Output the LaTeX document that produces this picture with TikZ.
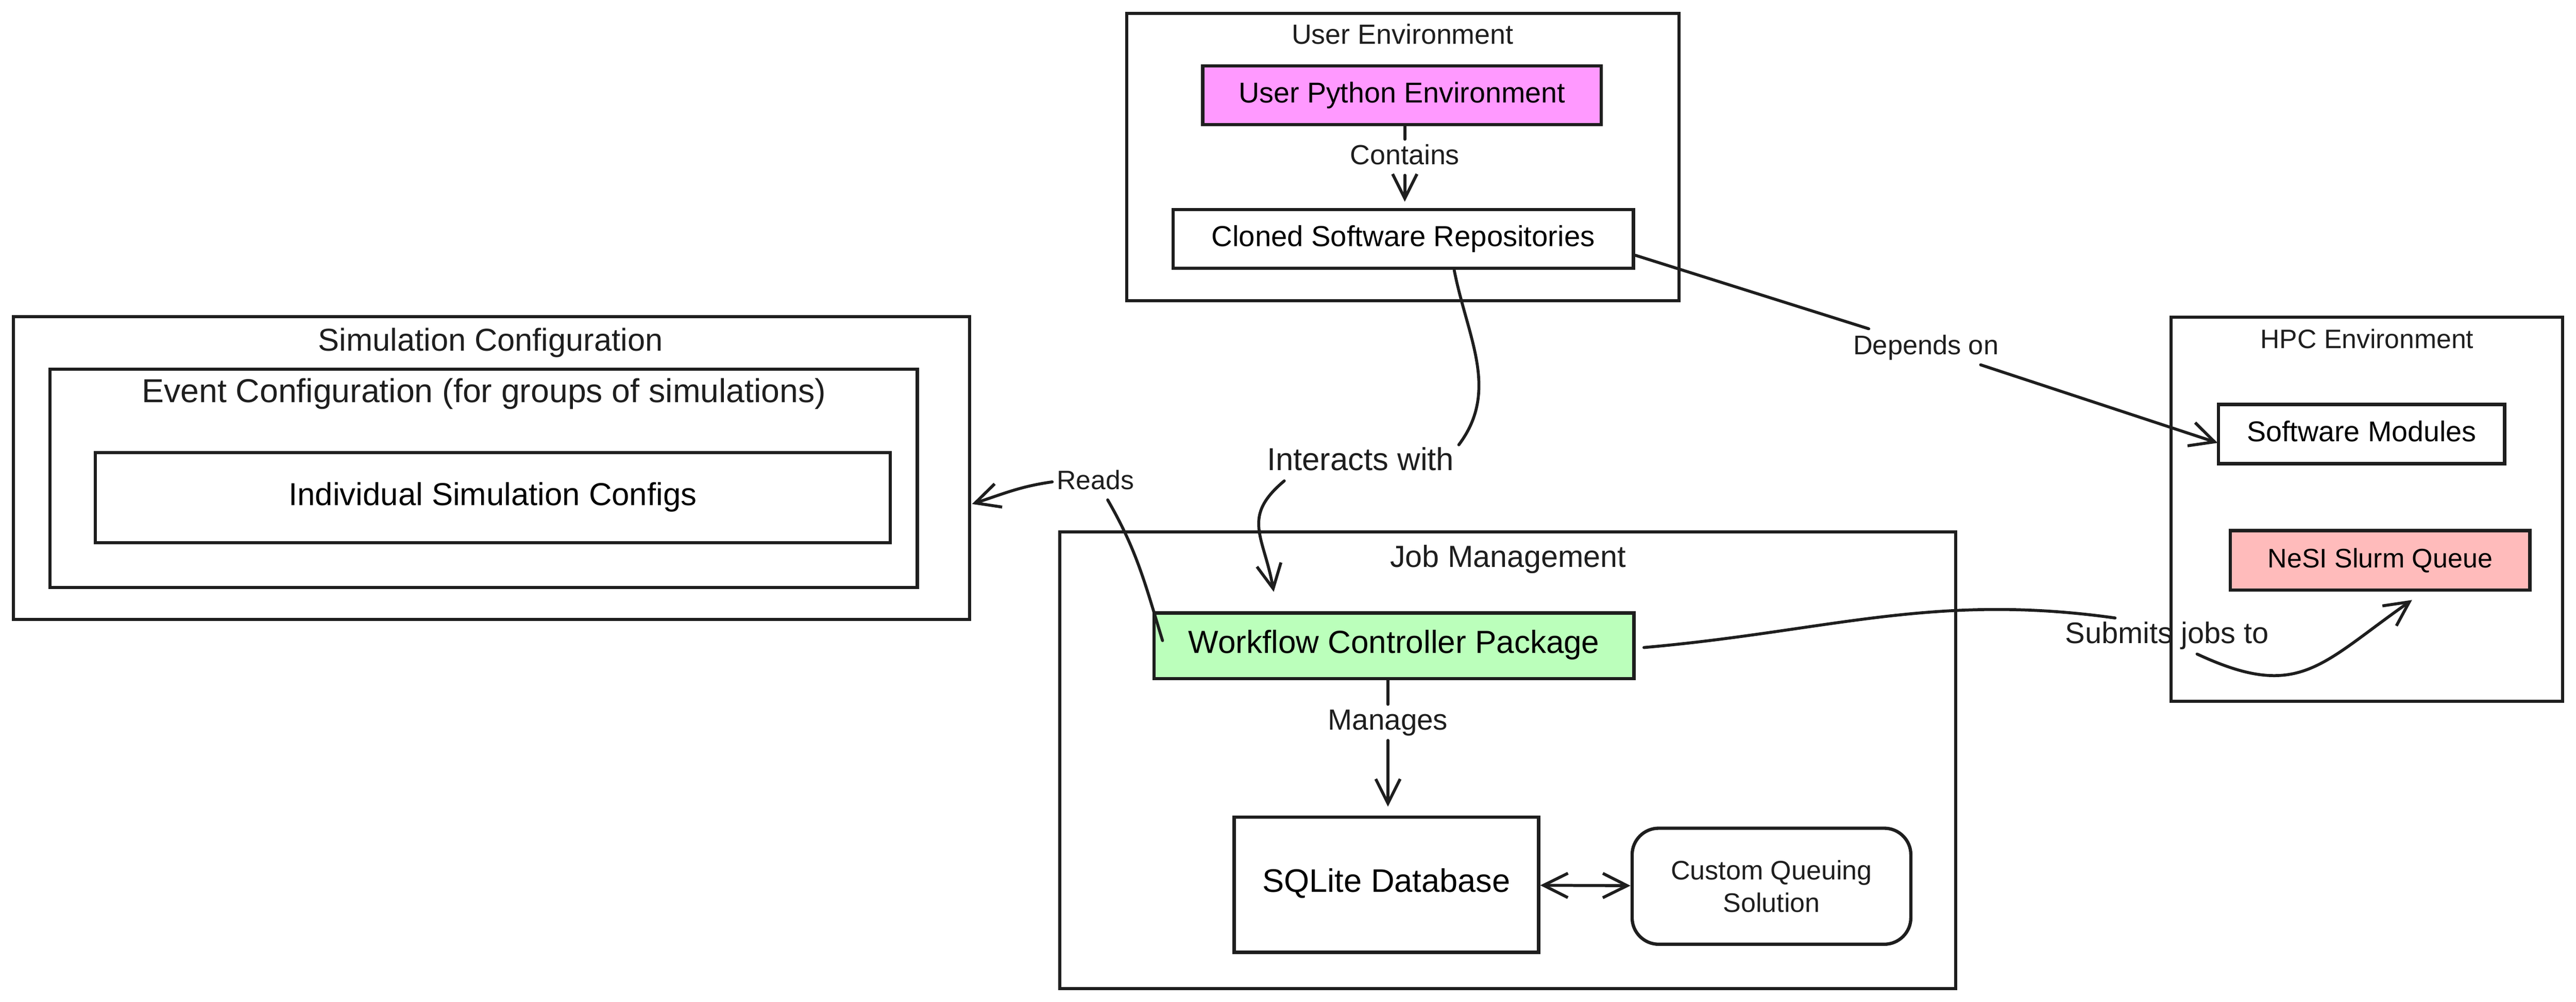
\documentclass[tikz,border=0pt]{standalone}
\usepackage{fontspec}
\setmainfont{Liberation Sans}
\usetikzlibrary{arrows.meta,calc}
\definecolor{ink}{HTML}{1E1E1E}
\definecolor{pinkf}{HTML}{FF99FF}
\definecolor{greenf}{HTML}{BBFFBB}
\definecolor{redf}{HTML}{FFBBBB}
\begin{document}
\begin{tikzpicture}[
  grp/.style={draw=ink, line width=2pt, inner sep=0pt},
  box/.style={draw=ink, line width=2.1pt, inner sep=0pt, text height=0.47cm, text depth=0.13cm},
  ttl/.style={anchor=base, inner sep=0pt, text=ink},
  lbl/.style={anchor=base, inner sep=0.1cm, text height=0.47cm, text depth=0.13cm, text=ink},
  fs/.style={font=\fontsize{#1pt}{#1pt}\selectfont},
  ln/.style={draw=ink, line width=1.9pt, line cap=round, line join=round},
  tip/.tip={Straight Barb[length=0.55cm, width=0.55cm]},
  arr/.style={ln, -tip}
]
\fill[white] (0,0) rectangle (58.13,-22.62);
\useasboundingbox (0,0) rectangle (58.13,-22.62);

% User Environment
\node[grp, minimum width=12.46cm, minimum height=6.49cm] (ue) at (31.66,-3.545) {};
\node[ttl, fs=17.8] (uet) at (31.65,-0.99) {User Environment};
\node[box, fill=pinkf, minimum width=8.99cm, minimum height=1.32cm, fs=18.4] (upe) at (31.635,-2.15) {User Python Environment};
\node[box, minimum width=10.39cm, minimum height=1.33cm, fs=18.6] (cl) at (31.665,-5.395) {Cloned Software Repositories};
\node[lbl, fs=17.8] (ct) at (31.70,-3.72) {Contains};

% Simulation Configuration
\node[grp, minimum width=21.58cm, minimum height=6.84cm] (sim) at (11.09,-10.57) {};
\node[ttl, fs=20.3] (simt) at (11.07,-7.92) {Simulation Configuration};
\node[grp, minimum width=19.57cm, minimum height=4.93cm] (ev) at (10.915,-10.805) {};
\node[ttl, fs=21.3] (evt) at (10.92,-9.08) {Event Configuration (for groups of simulations)};
\node[box, minimum width=17.94cm, minimum height=2.03cm, fs=20.4] (ind) at (11.12,-11.235) {Individual Simulation Configs};

% Job Management
\node[grp, minimum width=20.22cm, minimum height=10.31cm] (jm) at (34.02,-17.165) {};
\node[ttl, fs=19.6] (jmt) at (34.03,-12.80) {Job Management};
\node[box, fill=greenf, minimum width=10.83cm, minimum height=1.48cm, fs=20.5] (wf) at (31.455,-14.58) {Workflow Controller Package};
\node[lbl, fs=18.7] (mg) at (31.32,-16.48) {Manages};
\node[box, minimum width=6.87cm, minimum height=3.05cm, fs=20.9] (sql) at (31.285,-19.975) {SQLite Database};
\node[grp, line width=2.1pt, rounded corners=0.6cm, minimum width=6.29cm, minimum height=2.62cm, align=center, text=ink, font=\fontsize{17.2pt}{20.8pt}\selectfont] (cq) at (39.975,-20.01) {Custom Queuing\\Solution};

% HPC Environment
\node[grp, minimum width=8.84cm, minimum height=8.67cm] (hpc) at (53.41,-11.495) {};
\node[ttl, fs=17.1] (hpct) at (53.415,-7.86) {HPC Environment};
\node[box, minimum width=6.46cm, minimum height=1.34cm, fs=18.4] (sm) at (53.29,-9.80) {Software Modules};
\node[box, fill=redf, minimum width=6.76cm, minimum height=1.34cm, fs=17.2] (sq) at (53.71,-12.65) {NeSI Slurm Queue};

% edge labels
\node[lbl, fs=17.1] (rd) at (24.72,-11.05) {Reads};
\node[lbl, fs=20.4] (ia) at (30.70,-10.62) {Interacts with};
\node[lbl, fs=17.3] (dp) at (43.46,-8.00) {Depends on};
\node[lbl, fs=19.1] (sb) at (48.90,-14.53) {Submits jobs to};

% helper coordinates
\coordinate (rs) at ($(wf.north west)+(0.23,-0.66)$);
\coordinate (rt) at ($(sim.east)+(0.02,-0.81)$);
\coordinate (ias) at ($(cl.south)+(1.15,0)$);
\coordinate (iat) at ($(wf.north west)+(2.74,0.44)$);
\coordinate (dps) at ($(cl.east)+(0.01,-0.37)$);
\coordinate (dpe) at ($(sm.west)+(0.02,-0.20)$);
\coordinate (sbs) at ($(wf.east)+(0.19,-0.04)$);
\coordinate (sbt) at ($(sq.south)+(0.72,-0.19)$);

% connectors
\draw[ln] (upe.south -| ct) -- (ct);
\draw[arr, shorten >=0.14cm] (ct) -- (ct |- cl.north);
\draw[ln] (wf.south -| mg) -- (mg);
\draw[arr, shorten >=0.2cm] (mg) -- (mg |- sql.north);
\draw[ln, tip-tip] (sql) -- (cq);
\draw[ln] (dps) -- (dp);
\draw[arr] (dp) -- (dpe);
\draw[ln] (ias) to[out=-79, in=53] (ia.north east);
\draw[arr] ($(ia.south west)+(0.5,0)$) to[out=220, in=100, looseness=1.3] (iat);
\draw[ln] (rs) to[out=107, in=-60] ($(rd.south east)+(-0.7,0)$);
\draw[arr] (rd.west) to[out=188, in=18] (rt);
\draw[ln] (sbs) to[out=5, in=172] ($(sb.north west)+(1.23,0)$);
\draw[arr] ($(sb.south west)+(3.08,0)$) to[out=-25, in=215, looseness=1.3] (sbt);
\end{tikzpicture}
\end{document}
